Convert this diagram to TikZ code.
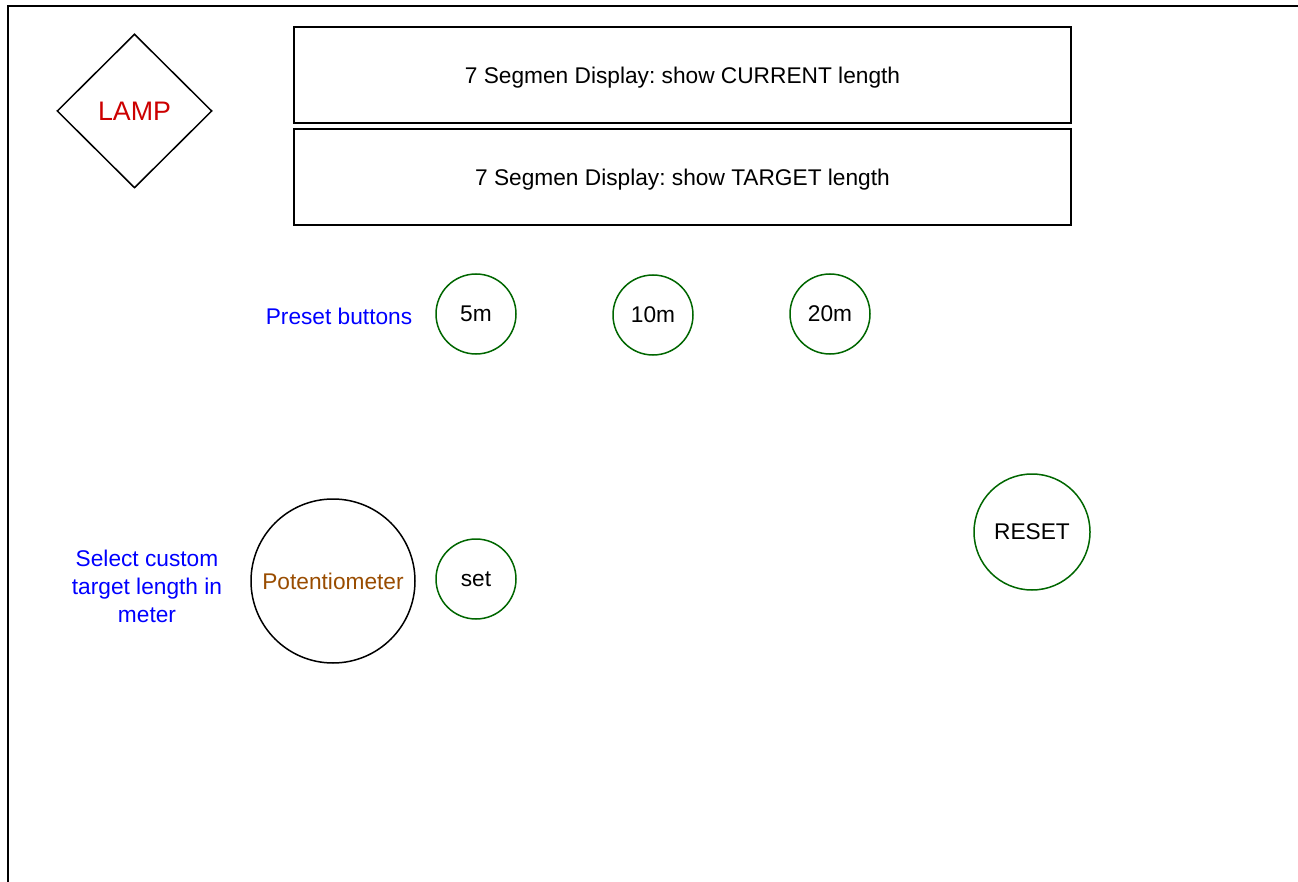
\documentclass[tikz,border=0pt]{standalone}
\usepackage{fontspec}
\setmainfont{Liberation Sans}
\usetikzlibrary{shapes.geometric}
\definecolor{btngreen}{HTML}{006600}
\definecolor{lampred}{HTML}{CC0000}
\definecolor{potbrown}{HTML}{994C00}
\definecolor{noteblue}{HTML}{0000FF}
\frenchspacing
\tikzset{
  panel/.style={draw, line width=1.5pt, rectangle, minimum width=777pt, minimum height=96pt, inner sep=0pt, text depth=0pt},
  btn/.style={draw=btngreen, line width=1.5pt, circle, minimum size=#1, inner sep=0pt},
  note/.style={text=noteblue, align=center}
}
\begin{document}
\begin{tikzpicture}[x=1pt,y=-1pt,font=\fontsize{22.7}{28}\selectfont]
\useasboundingbox (0,0) rectangle (1298,882);
% outer frame
\draw[line width=1.6pt] (8,882) -- (8,6) -- (1298,6);
% lamp and displays
\node[draw, line width=1.5pt, diamond, minimum width=155pt, minimum height=154pt, inner sep=0pt,
  text=lampred, font=\fontsize{26.8}{30}\selectfont] (lamp) at (134.5,111) {LAMP};
\node[panel] (curdisp) at (682.5,75) {7 Segmen Display: show CURRENT length};
\node[panel] (tgtdisp) at (682.5,177) {7 Segmen Display: show TARGET length};
% preset buttons
\node[note] (preset) at (339,316) {Preset buttons};
\node[btn=80pt] (b5) at (476,314) {5m};
\node[btn=80pt] (b10) at (653,315) {\raisebox{-6pt}{10m}};
\node[btn=80pt] (b20) at (830,314) {20m};
% custom target
\node[note] (custom) at (147,586) {Select custom\\target length in\\meter};
\node[draw, line width=1.5pt, circle, minimum size=164pt, inner sep=0pt, text=potbrown] (pot) at (333,581) {Potentiometer};
\node[btn=80pt] (setbtn) at (476,579) {set};
\node[btn=116pt] (reset) at (1032,532) {RESET};
\end{tikzpicture}
\end{document}
